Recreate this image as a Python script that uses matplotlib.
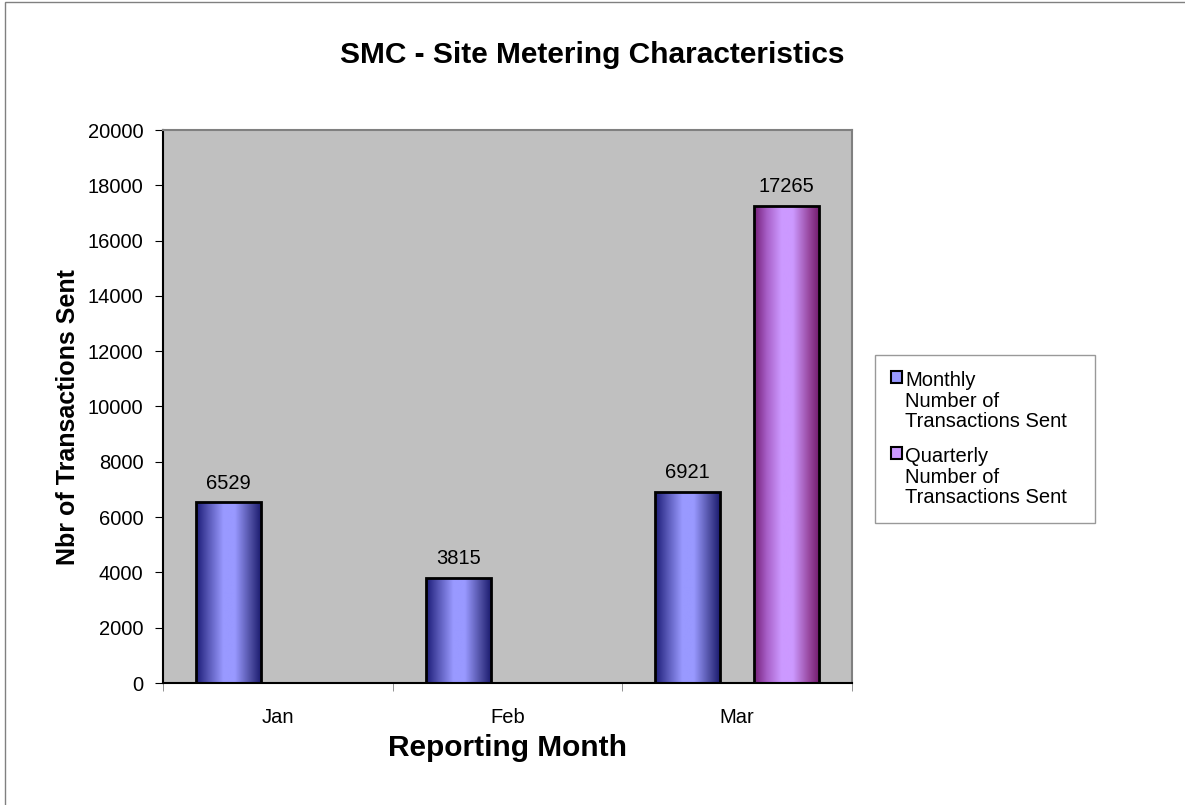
import numpy as np
import matplotlib
matplotlib.use("Agg")
import matplotlib.pyplot as plt
from matplotlib.colors import LinearSegmentedColormap
from matplotlib.patches import Rectangle, Patch

months = ["Jan", "Feb", "Mar"]
monthly = [6529, 3815, 6921]
quarterly = [None, None, 17265]
series_names = ["Monthly\nNumber of\nTransactions Sent",
                "Quarterly\nNumber of\nTransactions Sent"]
yticks = [0, 2000, 4000, 6000, 8000, 10000, 12000, 14000, 16000, 18000, 20000]

plt.rcParams["font.family"] = ["Liberation Sans", "DejaVu Sans"]

BLUE = "#9999ff"
PURPLE = "#cc99ff"
blue_cmap = LinearSegmentedColormap.from_list(
    "b", [(0, "#1c1c78"), (0.2, "#5a5ab8"), (0.42, "#9999ff"), (0.6, "#9999ff"), (0.85, "#4c4ca0"), (1, "#1c1c70")])
purple_cmap = LinearSegmentedColormap.from_list(
    "p", [(0, "#741e78"), (0.2, "#a860c8"), (0.42, "#cc99ff"), (0.6, "#cc99ff"), (0.85, "#9848a0"), (1, "#741e70")])

fig = plt.figure(figsize=(11.85, 8.05), dpi=100)
ax = fig.add_axes([163 / 1185, 1 - 683 / 805, 689 / 1185, 553 / 805])
ax.set_facecolor("#c0c0c0")

# outer chart border (only left/top fall inside the image)
fig.patches.append(Rectangle((5 / 1185, -0.1), 1.2, 1.1 - 2 / 805,
                             transform=fig.transFigure, fill=False,
                             edgecolor="#808080", lw=1.0))

x = np.arange(len(months))
width = 0.283
off = 0.215
grad = np.linspace(0, 1, 256).reshape(1, -1)


def gradient_bars(xs, vals, cmap):
    bars = ax.bar(xs, vals, width, color="none", edgecolor="black", lw=2, zorder=3)
    for b in bars:
        im = ax.imshow(grad, cmap=cmap, aspect="auto", zorder=2,
                       extent=[b.get_x(), b.get_x() + b.get_width(), 0, b.get_height()])
        im.set_clip_path(b)
    for b, v in zip(bars, vals):
        ax.text(b.get_x() + b.get_width() / 2, v + 350, str(v),
                ha="center", va="bottom", fontsize=14.5)
    return bars


gradient_bars(x - off, monthly, blue_cmap)
qx = [xi + off for xi, q in zip(x, quarterly) if q is not None]
qv = [q for q in quarterly if q is not None]
gradient_bars(qx, qv, purple_cmap)

ax.set_xlim(-0.5, 2.5)
ax.set_ylim(0, 20000)
ax.set_yticks(yticks)
ax.set_yticklabels([str(t) for t in yticks], fontsize=14.5)
ax.set_xticks(x)
ax.set_xticklabels(months, fontsize=14.5)
ax.set_xticks([-0.5, 0.5, 1.5, 2.5], minor=True)
ax.tick_params(axis="x", which="major", length=0, pad=18)
ax.tick_params(axis="x", which="minor", length=6, color="#808080", direction="out")
ax.tick_params(axis="y", length=6, color="black", direction="out", pad=8)

for s in ["top", "right"]:
    ax.spines[s].set_color("#808080")
    ax.spines[s].set_linewidth(1.5)
for s in ["left", "bottom"]:
    ax.spines[s].set_color("black")
    ax.spines[s].set_linewidth(1.5)

ax.set_ylabel("Nbr of Transactions Sent", fontsize=18, fontweight="bold")
ax.yaxis.set_label_coords(-0.12, 0.48)
ax.set_xlabel("Reporting Month", fontsize=21.5, fontweight="bold", labelpad=5)
fig.text(0.5, 1 - 55 / 805, "SMC - Site Metering Characteristics",
         ha="center", va="center", fontsize=21.5, fontweight="bold")

handles = [Patch(facecolor=BLUE, edgecolor="black", lw=1.5),
           Patch(facecolor=PURPLE, edgecolor="black", lw=1.5)]
leg = fig.legend(handles, series_names, loc="upper left", mode="expand",
                 bbox_to_anchor=(875 / 1185, 1 - 535 / 805, 220 / 1185, 180 / 805),
                 fontsize=14.5, frameon=True, fancybox=False,
                 handlelength=0.55, handleheight=0.55, handletextpad=0.15,
                 labelspacing=0.8, borderpad=0.8, borderaxespad=0)
leg.get_frame().set_edgecolor("#808080")
leg.get_frame().set_linewidth(1.0)
for t in leg.get_texts():
    t.set_linespacing(1.1)
# put each marker beside the first line of its label
for col in leg._legend_handle_box.get_children():
    for row in col.get_children():
        row.align = "top"

fig.savefig("out.png", dpi=100)
